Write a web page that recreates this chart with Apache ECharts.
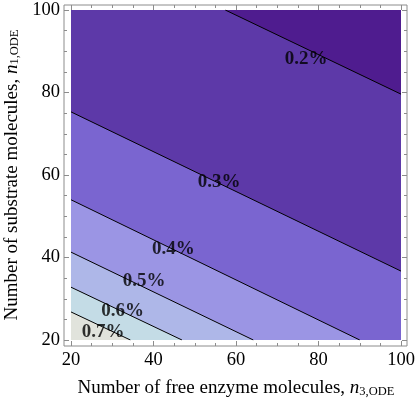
<!DOCTYPE html>
<html>
<head>
<meta charset="utf-8">
<script src="https://cdn.jsdelivr.net/npm/echarts@6/dist/echarts.min.js"></script>
<style>
  html, body { margin: 0; padding: 0; background: #fff; }
  #chart { width: 415px; height: 402px; }
</style>
</head>
<body>
<div id="chart"></div>
<script>
// contour levels, with where each straight contour line enters and leaves the plot
const levels = ['0.2%', '0.3%', '0.4%', '0.5%', '0.6%', '0.7%']
const lineStarts = [[57.4, 100], [20, 75.3], [20, 54], [20, 41.3], [20, 32.8], [20, 26.8]]
const lineEnds = [[100, 79.6], [100, 36.7], [90, 20], [64.2, 20], [46.9, 20], [34.4, 20]]
// where the level labels sit
const labelSpots = [[77, 88.2], [55.9, 58.2], [44.8, 42], [37.7, 34.4], [32.5, 27.1], [27.8, 21.9]]

// fill below each contour line (the region above the first line is the grid background)
const topColor = '#4f1c8f'
const bandColors = ['#5d39a8', '#7a65d0', '#9b95e4', '#aeb7e8', '#c4dce6', '#e1e3dc']

const font = 'Liberation Serif'
const frameColor = '#8c8c8c'
const grid = { left: 71, top: 10, right: 14, bottom: 62 }
const pad = { left: 7, top: 5, right: 6, bottom: 6 }

const series = []
levels.forEach((lv, i) => {
  const s = lineStarts[i]
  const e = lineEnds[i]
  // contour starting on the top edge: close the band along the top-left corner
  const area = s[1] === 100 && s[0] > 20 ? [[20, 100], s, e] : [s, e]
  series.push({
    type: 'line',
    data: area,
    symbol: 'none',
    silent: true,
    lineStyle: { opacity: 0 },
    areaStyle: { color: bandColors[i], opacity: 1, origin: 'start' }
  })
})
levels.forEach((lv, i) => {
  series.push({
    type: 'line',
    data: [lineStarts[i], lineEnds[i]],
    symbol: 'none',
    silent: true,
    lineStyle: { color: '#000', width: 1 }
  })
})
series.push({
  type: 'scatter',
  data: labelSpots,
  symbolSize: 1,
  itemStyle: { color: 'transparent' },
  silent: true,
  z: 10,
  label: {
    show: true,
    position: 'inside',
    formatter: (p) => levels[p.dataIndex],
    fontFamily: font,
    fontWeight: 'bold',
    fontSize: 19,
    color: '#000'
  }
})

const tickStyle = {
  axisLine: { show: false },
  axisTick: { show: true, inside: true, length: 5, lineStyle: { color: frameColor } },
  minorTick: { show: true, splitNumber: 4, length: 3, lineStyle: { color: frameColor } },
  splitLine: { show: false },
  minorSplitLine: { show: false }
}
const labelStyle = { show: true, fontFamily: font, fontSize: 18.5, color: '#000' }
const titleRich = {
  t: { fontFamily: font, fontSize: 19, color: '#000', verticalAlign: 'top', lineHeight: 19 },
  i: { fontFamily: font, fontSize: 19, color: '#000', fontStyle: 'italic', verticalAlign: 'top', lineHeight: 19 },
  s: { fontFamily: font, fontSize: 12.5, color: '#000', verticalAlign: 'bottom', lineHeight: 13, padding: [10, 0, 0, 0] }
}

const options = {
  animation: false,
  grid: { ...grid, show: true, backgroundColor: topColor, borderWidth: 0, outerBoundsMode: 'none', containLabel: false },
  xAxis: [
    {
      type: 'value', min: 20, max: 100, interval: 20, position: 'bottom', offset: pad.bottom,
      ...tickStyle,
      axisLabel: { ...labelStyle, margin: 5 },
      name: '{t|Number of free enzyme molecules, }{i|n}{s|3,ODE}',
      nameLocation: 'middle',
      nameGap: 30,
      nameTextStyle: { rich: titleRich }
    },
    {
      type: 'value', min: 20, max: 100, interval: 20, position: 'top', offset: pad.top,
      ...tickStyle,
      axisLabel: { show: false }
    }
  ],
  yAxis: [
    {
      type: 'value', min: 20, max: 100, interval: 20, position: 'left', offset: pad.left,
      ...tickStyle,
      axisLabel: { ...labelStyle, margin: 4 },
      name: '{t|Number of substrate molecules, }{i|n}{s|1,ODE}',
      nameLocation: 'middle',
      nameGap: 42,
      nameRotate: 90,
      nameTextStyle: { rich: titleRich }
    },
    {
      type: 'value', min: 20, max: 100, interval: 20, position: 'right', offset: pad.right,
      ...tickStyle,
      axisLabel: { show: false }
    }
  ],
  graphic: [{
    type: 'rect',
    z: 100,
    silent: true,
    shape: {
      x: grid.left - pad.left,
      y: grid.top - pad.top,
      width: 415 - grid.left - grid.right + pad.left + pad.right,
      height: 402 - grid.top - grid.bottom + pad.top + pad.bottom
    },
    style: { fill: 'none', stroke: frameColor, lineWidth: 1 }
  }],
  series
}

const chart = echarts.init(document.getElementById('chart'))
chart.setOption(options)
</script>
</body>
</html>
